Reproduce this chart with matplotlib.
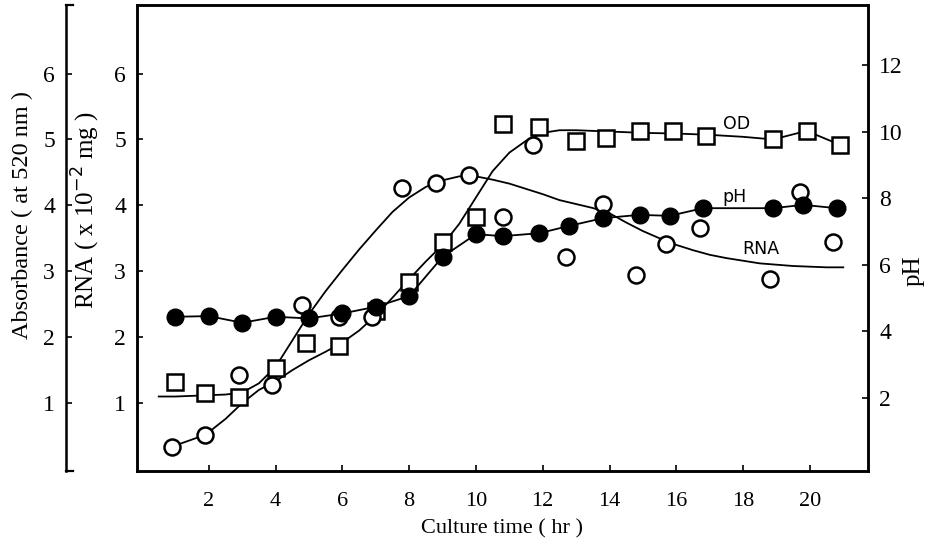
import numpy as np
import matplotlib.pyplot as plt

plt.rcParams['font.family'] = ['Liberation Serif', 'DejaVu Serif']

# pH (filled circles, right axis)
t_ph = [1, 2, 3, 4, 5, 6, 7, 8, 9, 10, 10.8, 11.9, 12.8, 13.8, 14.9, 15.8, 16.8, 18.9, 19.8, 20.8]
ph = [4.44, 4.46, 4.26, 4.44, 4.39, 4.54, 4.74, 5.06, 6.24, 6.92, 6.86, 6.95, 7.17, 7.40, 7.50, 7.47, 7.70, 7.70, 7.80, 7.70]

# OD (open squares)
t_od = [1.0, 1.9, 2.9, 4.0, 4.9, 5.9, 7.0, 8.0, 9.0, 10.0, 10.8, 11.9, 13.0, 13.9, 14.9, 15.9, 16.9, 18.9, 19.9, 20.9]
od = [1.32, 1.15, 1.10, 1.53, 1.91, 1.86, 2.39, 2.84, 3.45, 3.83, 5.24, 5.19, 4.97, 5.02, 5.13, 5.13, 5.05, 5.00, 5.13, 4.92]

# RNA (open circles)
t_rna = [0.9, 1.9, 2.9, 3.9, 4.8, 5.9, 6.9, 7.8, 8.8, 9.8, 10.8, 11.7, 12.7, 13.8, 14.8, 15.7, 16.7, 18.8, 19.7, 20.7]
rna = [0.34, 0.52, 1.43, 1.27, 2.49, 2.31, 2.31, 4.26, 4.34, 4.46, 3.83, 4.92, 3.22, 4.02, 2.94, 3.42, 3.65, 2.89, 4.21, 3.45]

# hand drawn curves
curve_a_t = [0.5, 1, 1.5, 2, 2.5, 3, 3.5, 4, 4.5, 5, 5.5, 6, 6.5, 7, 7.5, 8, 8.5, 9, 9.5, 10,
             10.5, 11, 11.5, 12, 12.5, 13, 13.5, 14, 14.5, 15, 15.5, 16, 16.5, 17, 17.5, 18,
             18.5, 19, 19.5, 20, 20.5, 21]
curve_a = [1.10, 1.10, 1.11, 1.12, 1.13, 1.16, 1.30, 1.55, 1.95, 2.35, 2.70, 3.02, 3.33, 3.62,
           3.90, 4.12, 4.28, 4.38, 4.44, 4.44, 4.39, 4.33, 4.25, 4.17, 4.08, 4.02, 3.96, 3.88,
           3.74, 3.61, 3.50, 3.40, 3.32, 3.25, 3.20, 3.16, 3.12, 3.10, 3.08, 3.07, 3.06, 3.06]

curve_b_t = [0.9, 1.9, 2.5, 3, 3.5, 4, 4.5, 5, 5.5, 6, 6.5, 7, 7.5, 8, 8.5, 9, 9.5, 10, 10.5,
             11, 11.5, 12, 12.5, 13, 14, 15, 16, 17, 18, 18.9, 19.9, 20.9]
curve_b = [0.34, 0.52, 0.76, 1.00, 1.20, 1.33, 1.50, 1.65, 1.78, 1.92, 2.10, 2.33, 2.60, 2.88,
           3.15, 3.40, 3.72, 4.12, 4.52, 4.80, 4.98, 5.10, 5.14, 5.14, 5.12, 5.10, 5.09, 5.07,
           5.04, 5.00, 5.13, 4.92]

fig = plt.figure(figsize=(9.29, 5.43), dpi=100)
ax = fig.add_axes([0.1475, 0.1326, 0.7868, 0.8582])
ax_out = ax.twinx()
ax_ph = ax.twinx()

ax.plot(curve_a_t, curve_a, color='k', lw=1.3, zorder=1)
ax.plot(curve_b_t, curve_b, color='k', lw=1.3, zorder=1)
ax.plot(t_od, od, ls='none', marker='s', ms=11, mfc='white', mec='k', mew=1.8, zorder=3)
ax.plot(t_rna, rna, ls='none', marker='o', ms=11.5, mfc='white', mec='k', mew=1.8, zorder=3)

ax_ph.plot(t_ph, ph, color='k', lw=1.3, marker='o', ms=12, mfc='k', mec='k', zorder=4)

ax.set_xlim(-0.15, 21.74)
ax.set_ylim(-0.03, 7.04)
ax_out.set_ylim(-0.03, 7.04)
ax_ph.set_ylim(-0.19, 13.8)

ax.set_xticks([2, 4, 6, 8, 10, 12, 14, 16, 18, 20])
ax.set_yticks([1, 2, 3, 4, 5, 6])
ax_out.set_yticks([1, 2, 3, 4, 5, 6])
ax_ph.set_yticks([2, 4, 6, 8, 10, 12])

# outer left axis for absorbance
ax_out.yaxis.tick_left()
ax_out.yaxis.set_label_position('left')
ax_out.spines['left'].set_position(('axes', -0.097))
for s in ['top', 'right', 'bottom']:
    ax_out.spines[s].set_visible(False)
ax_out.plot([-0.097, -0.088], [0, 0], color='k', lw=1.6, transform=ax.transAxes, clip_on=False)
ax_out.plot([-0.097, -0.088], [1, 1], color='k', lw=1.6, transform=ax.transAxes, clip_on=False)

for a in [ax, ax_out, ax_ph]:
    a.tick_params(direction='in', length=4, width=1.2, labelsize=17, pad=8)
    for s in a.spines.values():
        s.set_linewidth(1.8)
ax.tick_params(axis='x', labelsize=16, pad=15)

ax.set_ylabel('RNA ( x 10$^{-2}$ mg )', fontsize=18)
ax.yaxis.set_label_coords(-0.048, 0.56)
ax_out.set_ylabel('Absorbance ( at 520 nm )', fontsize=17.5)
ax_out.yaxis.set_label_coords(-0.142, 0.55)
ax_ph.set_ylabel('pH', fontsize=18, rotation=90, va='top')
ax_ph.yaxis.set_label_coords(1.048, 0.43)
ax.set_xlabel('Culture time ( hr )', fontsize=16, labelpad=6)

ax.text(17.8, 5.24, 'OD', fontsize=12.5, family='DejaVu Sans', ha='center', va='center')
ax_ph.text(17.75, 8.04, 'pH', fontsize=12.5, family='DejaVu Sans', ha='center', va='center')
ax.text(18.53, 3.34, 'RNA', fontsize=12.5, family='DejaVu Sans', ha='center', va='center')

fig.savefig('out.png', dpi=100)
